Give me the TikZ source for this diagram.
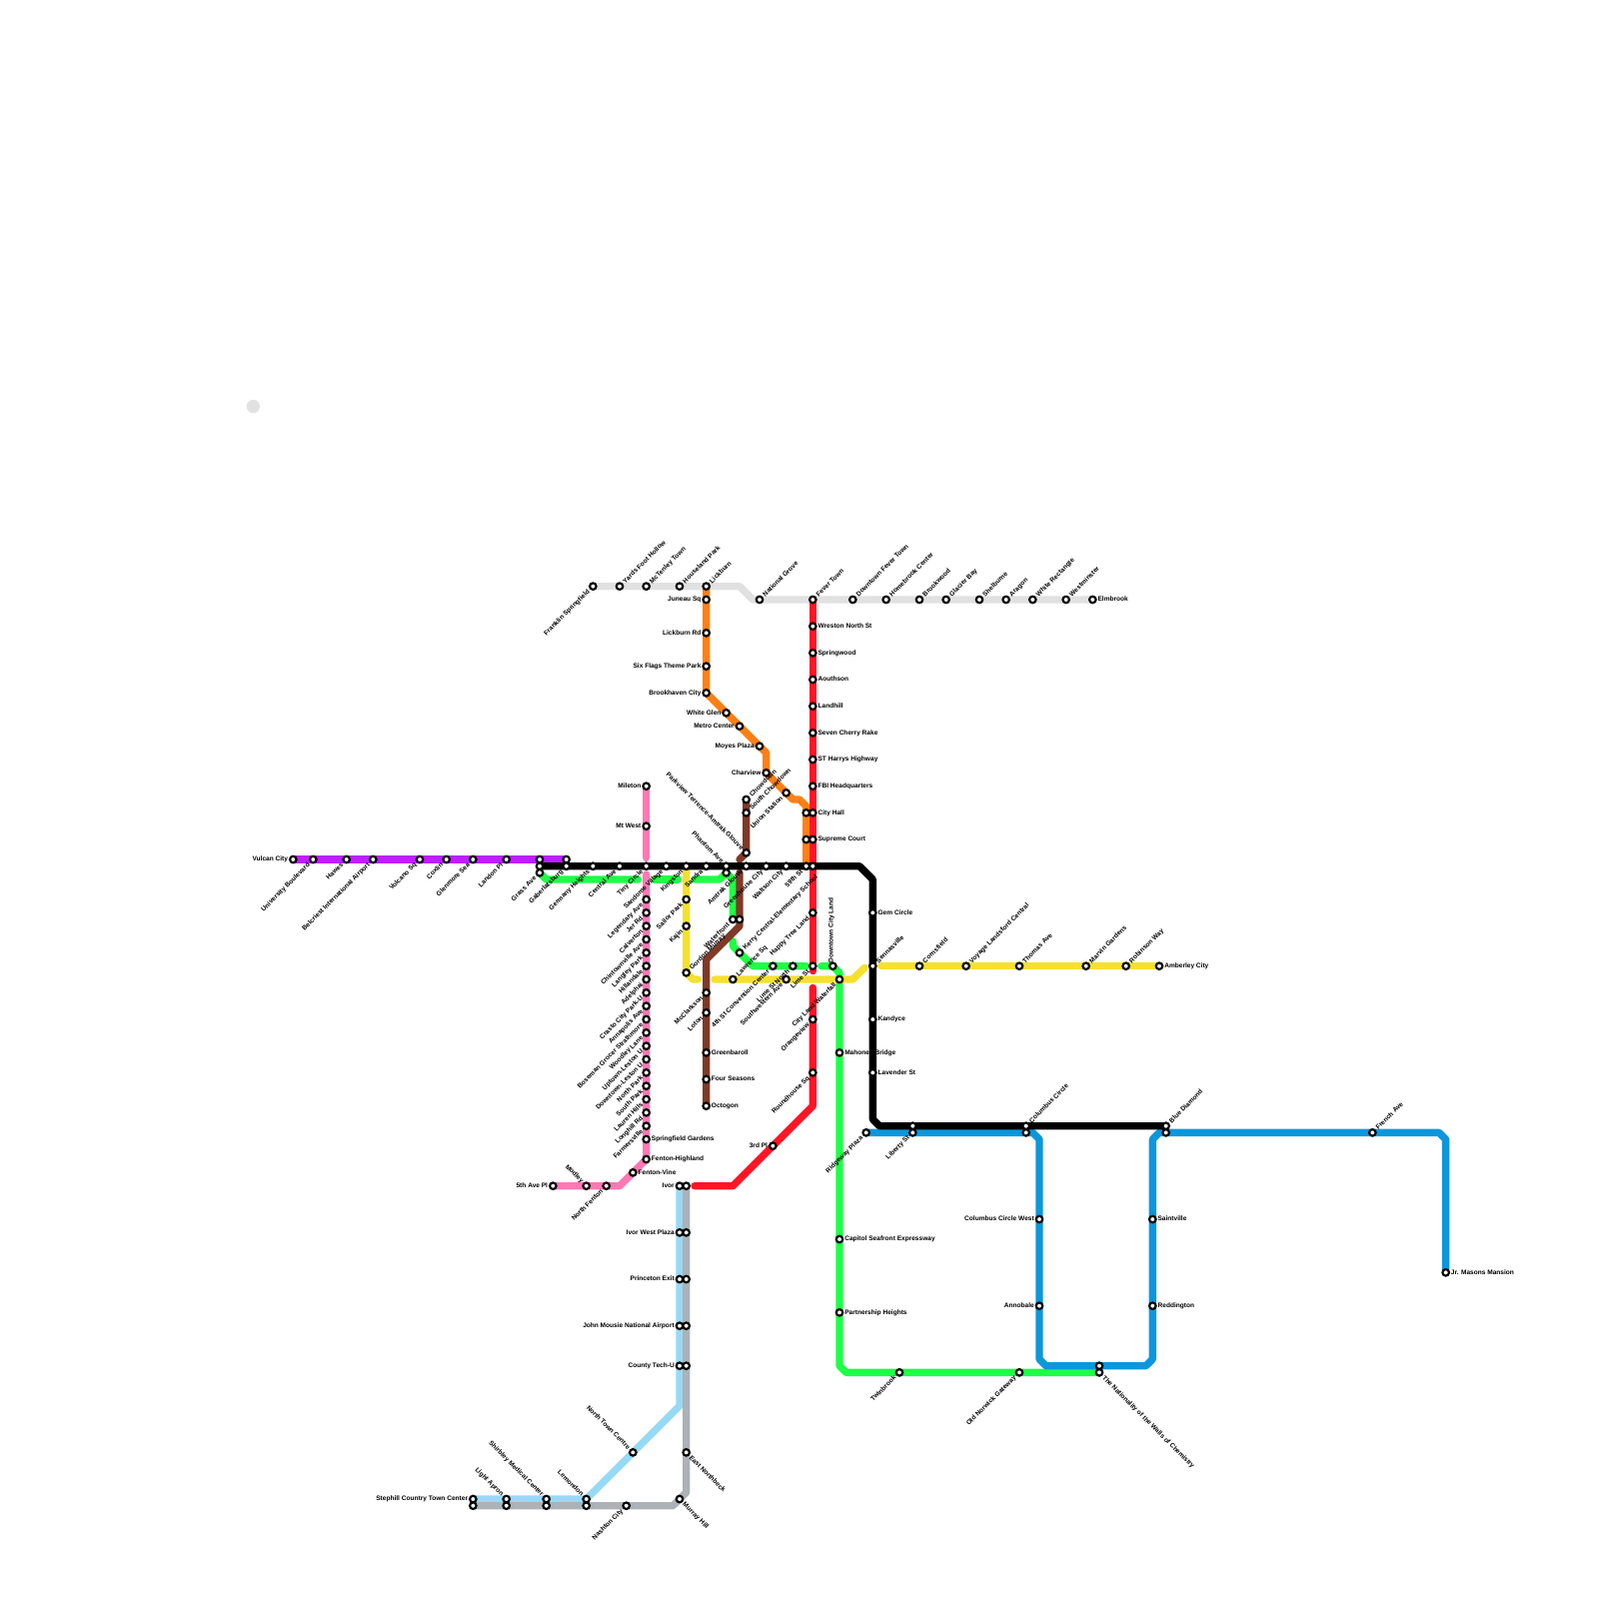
\documentclass[tikz,border=0pt]{standalone}
\usepackage{fontspec}
\setmainfont{Liberation Sans}
\usepackage{xcolor}
\usetikzlibrary{backgrounds}
\definecolor{linegray}{RGB}{225,225,225}
\definecolor{lineorange}{RGB}{255,127,22}
\definecolor{linered}{RGB}{255,22,38}
\definecolor{linepurple}{RGB}{189,31,250}
\definecolor{linepink}{RGB}{255,120,180}
\definecolor{linegreen}{RGB}{30,255,70}
\definecolor{linebrown}{RGB}{126,58,40}
\definecolor{lineyellow}{RGB}{245,225,45}
\definecolor{linesky}{RGB}{152,217,245}
\definecolor{lineslate}{RGB}{172,178,181}
\definecolor{lineblue}{RGB}{11,151,219}

\begin{document}
\begin{tikzpicture}[
            x=1mm, y=-1mm,
            stn/.style={circle, draw=black, fill=white, line width=0.32mm,
                       minimum size=0.98mm, inner sep=0pt, outer sep=0pt},
            lab/.style={font=\fontsize{2.8}{3}\selectfont\bfseries, inner sep=0pt, outer sep=0pt,
                       text height=0.7mm, text depth=0pt, label distance=0.3mm},
            tagR/.style={label={[lab, anchor=west, yshift=0.1mm]0:#1}},
            tagL/.style={label={[lab, anchor=east, yshift=0.1mm]180:#1}},
            tagN/.style={label={[lab, anchor=west, rotate=90]90:#1}},
            tagNE/.style={label={[lab, anchor=west, xshift=0.3mm, rotate=45]45:#1}},
            tagSW/.style={label={[lab, anchor=east, xshift=-0.35mm, rotate=45]225:#1}},
            tagNW/.style={label={[lab, anchor=east, xshift=-0.2mm, rotate=-45]135:#1}},
            tagSE/.style={label={[lab, anchor=west, xshift=0.3mm, rotate=-45]315:#1}},
            metro/.style={line width=1.1mm, line cap=round, line join=round}
        ]
            \useasboundingbox (0,0) rectangle (240,240);

            \node[circle, fill=linegray, minimum size=2mm, inner sep=0pt] (graydot) at (38,61) {};

            % purple
            \node[stn, tagL=Vulcan City] (vulcancity) at (44,129) {};
            \node[stn, tagSW=University Boulevard] (university) at (47,129) {};
            \node[stn, tagSW=Hawes] (hawes) at (52,129) {};
            \node[stn, tagSW=Belcriest International Airport] (belcriest) at (56,129) {};
            \node[stn, tagSW=Volcano Sq] (volcanosq) at (63,129) {};
            \node[stn, tagSW=Coxlin] (coxlin) at (67,129) {};
            \node[stn, tagSW=Glenmore Sea] (glenmore) at (71,129) {};
            \node[stn, tagSW=Landon Pl] (landonpl) at (76,129) {};
            \node[stn] (grasspurple) at (81,129) {};
            \node[stn] (gaberpurple) at (85,129) {};

            % black
            \node[stn] (grassblack) at (81,130) {};
            \node[stn, tagSW=Gaberlatsburg] (gaberlatsburg) at (85,130) {};
            \node[stn, tagSW=Germany Heights] (germany) at (89,130) {};
            \node[stn, tagSW=Central Ave] (centralave) at (93,130) {};
            \node[stn, tagSW=Tiny Circle] (tinycircle) at (97,130) {};
            \node[stn, tagSW=Sandome Village] (sandome) at (100,130) {};
            \node[stn, tagSW=Kingston] (kingston) at (103,130) {};
            \node[stn, tagSW=Sandra] (sandra) at (106,130) {};
            \node[stn, tagNW=Phantom Ave] (phantom) at (109,130) {};
            \node[stn, tagSW=Amtrak Glouve] (amtrak) at (112,130) {};
            \node[stn, tagSW=Greenhouse City] (greenhouse) at (115,130) {};
            \node[stn, tagSW=Waltson City] (waltson) at (118,130) {};
            \node[stn, tagSW=59th St] (fiftyninth) at (121,130) {};
            \node[stn] (redblack) at (122,130) {};
            \node[stn, tagR=Gem Circle] (gemcircle) at (131,137) {};
            \node[stn, tagNE=Sennasville] (sennasville) at (131,145) {};
            \node[stn, tagR=Kandyce] (kandyce) at (131,153) {};
            \node[stn, tagR=Lavender St] (lavender) at (131,161) {};
            \node[stn] (libertyblack) at (137,169) {};
            \node[stn, tagNE=Columbus Circle] (columbus) at (154,169) {};
            \node[stn, tagNE=Blue Diamond] (bluediamond) at (175,169) {};

            % light gray
            \node[stn, tagSW=Franklin Springfield] (franklin) at (89,88) {};
            \node[stn, tagNE=Yards Foot Hollow] (yards) at (93,88) {};
            \node[stn, tagNE=McTenley Town] (mctenley) at (97,88) {};
            \node[stn, tagNE=Houseland Park] (houseland) at (102,88) {};
            \node[stn, tagNE=Lickburn] (lickburn) at (106,88) {};
            \node[stn, tagNE=National Grove] (national) at (114,90) {};
            \node[stn, tagNE=Fever Town] (fevertown) at (122,90) {};
            \node[stn, tagNE=Downtown Fever Town] (downtownfever) at (128,90) {};
            \node[stn, tagNE=Homebrook Center] (homebrook) at (133,90) {};
            \node[stn, tagNE=Brookwood] (brookwood) at (138,90) {};
            \node[stn, tagNE=Glacier Bay] (glacier) at (142,90) {};
            \node[stn, tagNE=Shelburne] (shelburne) at (147,90) {};
            \node[stn, tagNE=Aragon] (aragon) at (151,90) {};
            \node[stn, tagNE=White Rectangle] (whiterect) at (155,90) {};
            \node[stn, tagNE=Westminster] (westminster) at (160,90) {};
            \node[stn, tagR=Elmbrook] (elmbrook) at (164,90) {};

            % orange
            \node[stn, tagL=Juneau Sq] (juneau) at (106,90) {};
            \node[stn, tagL=Lickburn Rd] (lickburnrd) at (106,95) {};
            \node[stn, tagL=Six Flags Theme Park] (sixflags) at (106,100) {};
            \node[stn, tagL=Brookhaven City] (brookhaven) at (106,104) {};
            \node[stn, tagL=White Glen] (whiteglen) at (109,107) {};
            \node[stn, tagL=Metro Center] (metrocenter) at (111,109) {};
            \node[stn, tagL=Moyes Plaza] (moyes) at (114,112) {};
            \node[stn, tagL=Charview] (charview) at (115,116) {};
            \node[stn, tagSW=Union Station] (unionstation) at (118,119) {};
            \node[stn] (cityhallorange) at (121,122) {};
            \node[stn] (supremeorange) at (121,126) {};

            % red
            \node[stn, tagR=Wreston North St] (wreston) at (122,94) {};
            \node[stn, tagR=Springwood] (springwood) at (122,98) {};
            \node[stn, tagR=Aouthson] (aouthson) at (122,102) {};
            \node[stn, tagR=Landhill] (landhill) at (122,106) {};
            \node[stn, tagR=Seven Cherry Rake] (sevencherry) at (122,110) {};
            \node[stn, tagR=ST Harrys Highway] (stharrys) at (122,114) {};
            \node[stn, tagR=FBI Headquarters] (fbi) at (122,118) {};
            \node[stn, tagR=City Hall] (cityhall) at (122,122) {};
            \node[stn, tagR=Supreme Court] (supreme) at (122,126) {};
            \node[stn, tagSW=Happy Tree Land] (happytree) at (122,137) {};
            \node[stn, tagSW=Orangeview] (orangeview) at (122,153) {};
            \node[stn, tagSW=Roundhouse Sq] (roundhouse) at (122,161) {};
            \node[stn, tagL=3rd Pl] (thirdpl) at (116,172) {};

            % brown
            \node[stn, tagNE=Chowdown] (chowdown) at (112,120) {};
            \node[stn, tagNE=South Chowdown] (southchowdown) at (112,122) {};
            \node[stn, tagNW=Parkview Terrence-Amtrak Glouve] (parkview) at (112,128) {};
            \node[stn] (waterfrontbrown) at (111,138) {};
            \node[stn, tagSW=McClarkson] (mcclarkson) at (106,149) {};
            \node[stn, tagSW=Loton] (loton) at (106,152) {};
            \node[stn, tagR=Greenbaroll] (greenbaroll) at (106,158) {};
            \node[stn, tagR=Four Seasons] (fourseasons) at (106,162) {};
            \node[stn, tagR=Octogon] (octogon) at (106,166) {};

            % pink
            \node[stn, tagL=Mileton] (mileton) at (97,118) {};
            \node[stn, tagL=Mt West] (mtwest) at (97,124) {};
            \node[stn, tagSW=Legendary Ave] (legendary) at (97,135) {};
            \node[stn, tagSW=Jer Rd] (jerrd) at (97,137) {};
            \node[stn, tagSW=Calverton] (calverton) at (97,139) {};
            \node[stn, tagSW=Chintownville Ave] (chintown) at (97,141) {};
            \node[stn, tagSW=Langley Park] (langley) at (97,143) {};
            \node[stn, tagSW=Hillandale] (hillandale) at (97,145) {};
            \node[stn, tagSW=Adelphai] (adelphai) at (97,147) {};
            \node[stn, tagSW=Crasto City Park-U] (crasto) at (97,149) {};
            \node[stn, tagSW=Annapolis Ave] (annapolis) at (97,151) {};
            \node[stn, tagSW=Boseman Grocer Strathmore] (boseman) at (97,153) {};
            \node[stn, tagSW=Woodley Lane] (woodley) at (97,155) {};
            \node[stn, tagSW=Uptown-Leston U] (uptown) at (97,157) {};
            \node[stn, tagSW=Downtown-Leston U] (downtownleston) at (97,159) {};
            \node[stn, tagSW=North Park] (northpark) at (97,161) {};
            \node[stn, tagSW=South Park] (southpark) at (97,163) {};
            \node[stn, tagSW=Lauren Hills] (lauren) at (97,165) {};
            \node[stn, tagSW=Longhill Rd] (longhill) at (97,167) {};
            \node[stn, tagSW=Farmersville] (farmersville) at (97,169) {};
            \node[stn, tagR=Springfield Gardens] (springfield) at (97,171) {};
            \node[stn, tagR=Fenton-Highland] (highland) at (97,174) {};
            \node[stn, tagR=Fenton-Vine] (fentonvine) at (95,176) {};
            \node[stn, tagSW=North Fenton] (northfenton) at (91,178) {};
            \node[stn, tagNW=Modley] (modley) at (88,178) {};
            \node[stn, tagL=5th Ave Pl] (fifthave) at (83,178) {};

            % green
            \node[stn, tagSW=Grass Ave] (grassave) at (81,131) {};
            \node[stn] (amtrakgreen) at (109,131) {};
            \node[stn, tagSW=Waterfront] (waterfront) at (110,138) {};
            \node[stn, tagNE=Kerry Central-Elementary School] (kerry) at (111,143) {};
            \node[stn, tagSW=4th St Convention Center] (fourthst) at (116,145) {};
            \node[stn, tagSW=Lime St North] (limenorth) at (119,145) {};
            \node[stn, tagSW=Lime St] (limest) at (122,145) {};
            \node[stn, tagN=Downtown City Land] (downtowncity) at (125,145) {};
            \node[stn, tagR=Mahoney Bridge] (mahoney) at (126,158) {};
            \node[stn, tagR=Capitol Seafront Expressway] (capitol) at (126,186) {};
            \node[stn, tagR=Partnership Heights] (partnership) at (126,197) {};
            \node[stn, tagSW=Twinbrook] (twinbrook) at (135,206) {};
            \node[stn, tagSW=Old Norwick Gateway] (norwick) at (153,206) {};
            \node[stn, tagSE=The Nationality of the Walls of Chemistry] (nationality) at (165,206) {};

            % yellow
            \node[stn, tagSW=Sailor Park] (sailorpark) at (103,135) {};
            \node[stn, tagSW=Kajin] (kajin) at (103,139) {};
            \node[stn, tagNE=Gordon Murray] (gordon) at (103,146) {};
            \node[stn, tagNE=Lawrence Sq] (lawrence) at (110,147) {};
            \node[stn, tagSW=Southwestern Ave] (southwestern) at (118,147) {};
            \node[stn, tagSW=City Land Waterfall] (cityland) at (126,147) {};
            \node[stn, tagNE=Cornsfield] (cornsfield) at (138,145) {};
            \node[stn, tagNE=Voyage Landsford Central] (voyage) at (145,145) {};
            \node[stn, tagNE=Thomas Ave] (thomas) at (153,145) {};
            \node[stn, tagNE=Marvin Gardens] (marvin) at (163,145) {};
            \node[stn, tagNE=Robinson Way] (robinson) at (169,145) {};
            \node[stn, tagR=Amberley City] (amberley) at (174,145) {};

            % light blue
            \node[stn, tagL=Ivor] (ivor) at (102,178) {};
            \node[stn, tagL=Ivor West Plaza] (ivorwest) at (102,185) {};
            \node[stn, tagL=Princeton Exit] (princeton) at (102,192) {};
            \node[stn, tagL=John Mousie National Airport] (mousie) at (102,199) {};
            \node[stn, tagL=County Tech-U] (countytech) at (102,205) {};
            \node[stn, tagNW=North Town Centre] (northtown) at (95,218) {};
            \node[stn, tagNW=Lemondon] (lemondon) at (88,225) {};
            \node[stn, tagNW=Shirbley Medical Center] (shirbley) at (82,225) {};
            \node[stn, tagNW=Light Apron] (lightapron) at (76,225) {};
            \node[stn, tagL=Stephill Country Town Center] (stephill) at (71,225) {};

            % slate
            \node[stn] (ivorslate) at (103,178) {};
            \node[stn] (ivorwestslate) at (103,185) {};
            \node[stn] (princetonslate) at (103,192) {};
            \node[stn] (mousieslate) at (103,199) {};
            \node[stn] (countyslate) at (103,205) {};
            \node[stn, tagSE=East Northbeck] (northbeck) at (103,218) {};
            \node[stn, tagSE=Murray Hill] (murrayhill) at (102,225) {};
            \node[stn, tagSW=Nashton City] (nashton) at (94,226) {};
            \node[stn] (lemondonslate) at (88,226) {};
            \node[stn] (shirbleyslate) at (82,226) {};
            \node[stn] (apronslate) at (76,226) {};
            \node[stn] (stephillslate) at (71,226) {};

            % blue
            \node[stn, tagSW=Ridgeway Plaza] (ridgeway) at (130,170) {};
            \node[stn, tagSW=Liberty St] (liberty) at (137,170) {};
            \node[stn] (columbusblue) at (154,170) {};
            \node[stn, tagL=Columbus Circle West] (columbuswest) at (156,183) {};
            \node[stn, tagL=Annobale] (annobale) at (156,196) {};
            \node[stn] (nationalityblue) at (165,205) {};
            \node[stn, tagR=Reddington] (reddington) at (173,196) {};
            \node[stn, tagR=Saintville] (saintville) at (173,183) {};
            \node[stn] (diamondblue) at (175,170) {};
            \node[stn, tagNE=French Ave] (frenchave) at (206,170) {};
            \node[stn, tagR=Jr. Masons Mansion] (masons) at (217,191) {};

            % bends and gaps
            \coordinate (grayA) at (111,88);
            \coordinate (grayB) at (113,90);
            \coordinate (orangeA) at (115,113);
            \coordinate (orangeB) at (119,120);
            \coordinate (orangeC) at (120,120);
            \coordinate (orangeD) at (121,121);
            \coordinate (redA) at (122,145.75);
            \coordinate (redB) at (122,148.25);
            \coordinate (redC) at (122,166);
            \coordinate (redD) at (110,178);
            \coordinate (redE) at (104.25,178);
            \coordinate (pinkA) at (97,128.75);
            \coordinate (pinkB) at (97,131.25);
            \coordinate (pinkC) at (93,178);
            \coordinate (greenA) at (82,132);
            \coordinate (greenB) at (95.75,132);
            \coordinate (greenC) at (98.25,132);
            \coordinate (greenD) at (101.75,132);
            \coordinate (greenE) at (104.25,132);
            \coordinate (greenF) at (108,132);
            \coordinate (greenG) at (110,132);
            \coordinate (greenH) at (110,141.25);
            \coordinate (greenI) at (110,142);
            \coordinate (greenJ) at (113,145);
            \coordinate (greenK) at (121,145);
            \coordinate (greenL) at (123.25,145);
            \coordinate (greenM) at (126,146);
            \coordinate (greenN) at (126,205);
            \coordinate (greenO) at (127,206);
            \coordinate (brownA) at (111,129);
            \coordinate (brownB) at (111,131);
            \coordinate (brownC) at (111,139);
            \coordinate (brownD) at (106,144);
            \coordinate (yellowA) at (104,147);
            \coordinate (yellowB) at (104.75,147);
            \coordinate (yellowC) at (107.25,147);
            \coordinate (yellowD) at (128,147);
            \coordinate (yellowE) at (129.75,145.25);
            \coordinate (yellowF) at (132.25,145);
            \coordinate (skyA) at (102,211);
            \coordinate (slateA) at (101,226);
            \coordinate (slateB) at (103,224);
            \coordinate (blueA) at (155,170);
            \coordinate (blueB) at (156,171);
            \coordinate (blueC) at (156,204);
            \coordinate (blueD) at (157,205);
            \coordinate (blueE) at (172,205);
            \coordinate (blueF) at (173,204);
            \coordinate (blueG) at (173,171);
            \coordinate (blueH) at (174,170);
            \coordinate (blueI) at (216,170);
            \coordinate (blueJ) at (217,171);
            \coordinate (blackA) at (129,130);
            \coordinate (blackB) at (131,132);
            \coordinate (blackC) at (131,168);
            \coordinate (blackD) at (132,169);

            % lines under the stations
            \begin{scope}[on background layer]
                \draw[metro, linegray] (franklin.center) -- (grayA) -- (grayB) -- (elmbrook.center);
                \draw[metro, lineorange] (lickburn.center) -- (brookhaven.center) -- (moyes.center) -- (orangeA) -- (charview.center) -- (orangeB) -- (orangeC) -- (orangeD) -- (fiftyninth.center);
                \draw[metro, linered] (fevertown.center) -- (redA);
                \draw[metro, linered] (redB) -- (redC) -- (redD) -- (redE);
                \draw[metro, linepurple] (vulcancity.center) -- (gaberpurple.center);
                \draw[metro, linepink] (mileton.center) -- (pinkA);
                \draw[metro, linepink] (pinkB) -- (highland.center) -- (pinkC) -- (fifthave.center);
                \draw[metro, linegreen] (grassave.center) -- (greenA) -- (greenB);
                \draw[metro, linegreen] (greenC) -- (greenD);
                \draw[metro, linegreen] (greenE) -- (greenF) -- (amtrakgreen.center) -- (greenG) -- (waterfront.center);
                \draw[metro, linegreen] (greenH) -- (greenI) -- (greenJ) -- (greenK);
                \draw[metro, linegreen] (greenL) -- (downtowncity.center) -- (greenM) -- (greenN) -- (greenO) -- (nationality.center);
                \draw[metro, linebrown] (chowdown.center) -- (parkview.center) -- (brownA);
                \draw[metro, linebrown] (brownB) -- (brownC) -- (brownD) -- (octogon.center);
                \draw[metro, lineyellow] (kingston.center) -- (gordon.center) -- (yellowA) -- (yellowB);
                \draw[metro, lineyellow] (yellowC) -- (yellowD) -- (yellowE);
                \draw[metro, lineyellow] (yellowF) -- (amberley.center);
                \draw[metro, linesky] (stephill.center) -- (lemondon.center) -- (skyA) -- (ivor.center);
                \draw[metro, lineslate] (stephillslate.center) -- (slateA) -- (slateB) -- (ivorslate.center);
                \draw[metro, lineblue] (ridgeway.center) -- (blueA) -- (blueB) -- (blueC) -- (blueD) -- (blueE) -- (blueF) -- (blueG) -- (blueH) -- (blueI) -- (blueJ) -- (masons.center);
                \draw[metro, black] (grassblack.center) -- (blackA) -- (blackB) -- (blackC) -- (blackD) -- (bluediamond.center);
            \end{scope}
        \end{tikzpicture}
\end{document}
